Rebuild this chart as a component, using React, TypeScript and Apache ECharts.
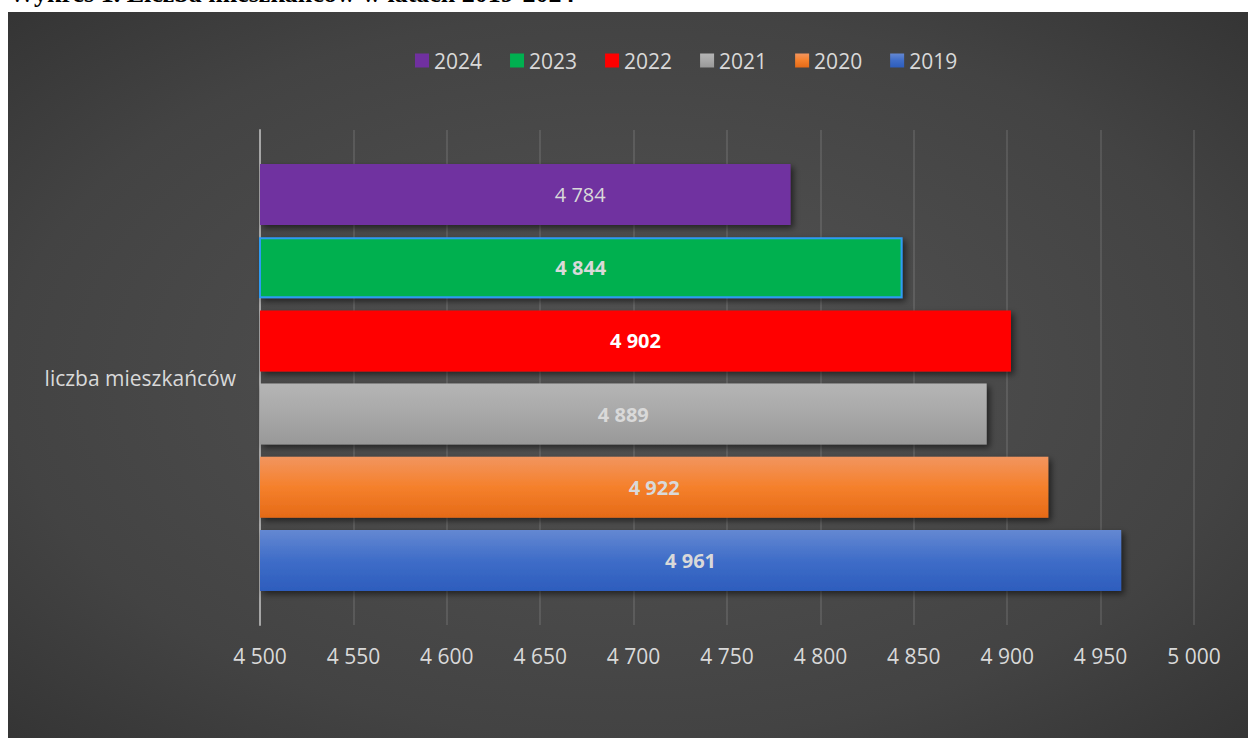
import React, { useEffect, useRef } from "react";
import * as echarts from "echarts";

const title = "Wykres 1. Liczba mieszkańców w latach 2019-2024";
const category = ["liczba mieszkańców"];
const years = ["2024", "2023", "2022", "2021", "2020", "2019"];
const values = [4784, 4844, 4902, 4889, 4922, 4961];
const xTicks = { min: 4500, max: 5000, interval: 50 };

const FONT = "'Open Sans', 'Noto Sans', sans-serif";

const lin = (stops: [number, string][]) =>
  new echarts.graphic.LinearGradient(0, 0, 0, 1, stops.map(([offset, color]) => ({ offset, color })));

const fills: any[] = [
  "#7030A0",
  "#00B050",
  "#FF0000",
  lin([[0, "#b5b5b5"], [0.5, "#a8a8a8"], [1, "#989898"]]),
  lin([[0, "#f2955f"], [0.5, "#f5802b"], [1, "#e56a17"]]),
  lin([[0, "#6488d2"], [0.5, "#3f6dc8"], [1, "#2d5dbd"]]),
];

const fmt = (v: number) => `${Math.floor(v / 1000)} ${String(v % 1000).padStart(3, "0")}`;

export default function App() {
  const ref = useRef<HTMLDivElement>(null);
  useEffect(() => {
    if (!ref.current) return;
    const chart = echarts.init(ref.current, undefined, { renderer: "svg" });
    const series = years.map((y, i) => ({
      name: y,
      type: "bar",
      barWidth: 61,
      barGap: "20%",
      data: [values[i]],
      itemStyle: {
        color: fills[i],
        borderColor: i === 1 ? "#2f9bf2" : undefined,
        borderWidth: i === 1 ? 2 : 0,
        shadowBlur: 6,
        shadowColor: "rgba(0,0,0,0.55)",
        shadowOffsetX: 3,
        shadowOffsetY: 3,
      },
      label: {
        show: true,
        position: "inside",
        formatter: (p: any) => fmt(p.value),
        color: i === 2 ? "#ffffff" : "#d9d9d9",
        fontFamily: FONT,
        fontSize: 20,
        fontWeight: i === 0 ? "normal" : "bold",
        offset: i === 0 ? [55, 0] : [0, 0],
      },
    }));
    chart.setOption({
      animation: false,
      backgroundColor: "#ffffff",
      graphic: [
        {
          type: "rect",
          z: -100,
          shape: { x: 8, y: 12, width: 1240, height: 726 },
          style: {
            fill: new echarts.graphic.RadialGradient(0.5, 0.5, 1, [
              { offset: 0, color: "#545454" },
              { offset: 0.5, color: "#434343" },
              { offset: 1, color: "#202020" },
            ]),
          },
        },
        {
          type: "text",
          z: -200,
          x: 9,
          y: 6,
          style: {
            text: title,
            fontFamily: "'Liberation Serif', 'Times New Roman', serif",
            fontWeight: "bold",
            fontSize: 26,
            fill: "#000000",
            verticalAlign: "bottom",
            textBaseline: "bottom",
          },
        },
      ],
      legend: {
        data: years,
        left: 410,
        top: 45,
        itemWidth: 14,
        itemHeight: 14,
        itemGap: 28,
        icon: "rect",
        itemStyle: { borderWidth: 0, shadowBlur: 0, shadowOffsetX: 0, shadowOffsetY: 0 },
        textStyle: { color: "#d9d9d9", fontFamily: FONT, fontSize: 21 },
      },
      grid: { left: 260, right: 54, top: 130, bottom: 113, containLabel: false },
      xAxis: {
        type: "value",
        min: xTicks.min,
        max: xTicks.max,
        interval: xTicks.interval,
        axisLine: { show: false },
        axisTick: { show: false },
        splitLine: { show: true, lineStyle: { color: "rgba(255,255,255,0.14)", width: 1.5 } },
        axisLabel: {
          color: "#d9d9d9",
          fontFamily: FONT,
          fontSize: 21,
          margin: 20,
          formatter: (v: number) => fmt(v),
        },
      },
      yAxis: {
        type: "category",
        data: category,
        inverse: true,
        axisLine: { show: true, lineStyle: { color: "#a6a6a6", width: 2 } },
        axisTick: { show: false },
        axisLabel: { color: "#d9d9d9", fontFamily: FONT, fontSize: 21, margin: 24 },
      },
      series,
    });
    return () => chart.dispose();
  }, []);
  return (
    <div
      ref={ref}
      style={{ position: "fixed", left: 0, top: 0, width: 1248, height: 738 }}
    />
  );
}
